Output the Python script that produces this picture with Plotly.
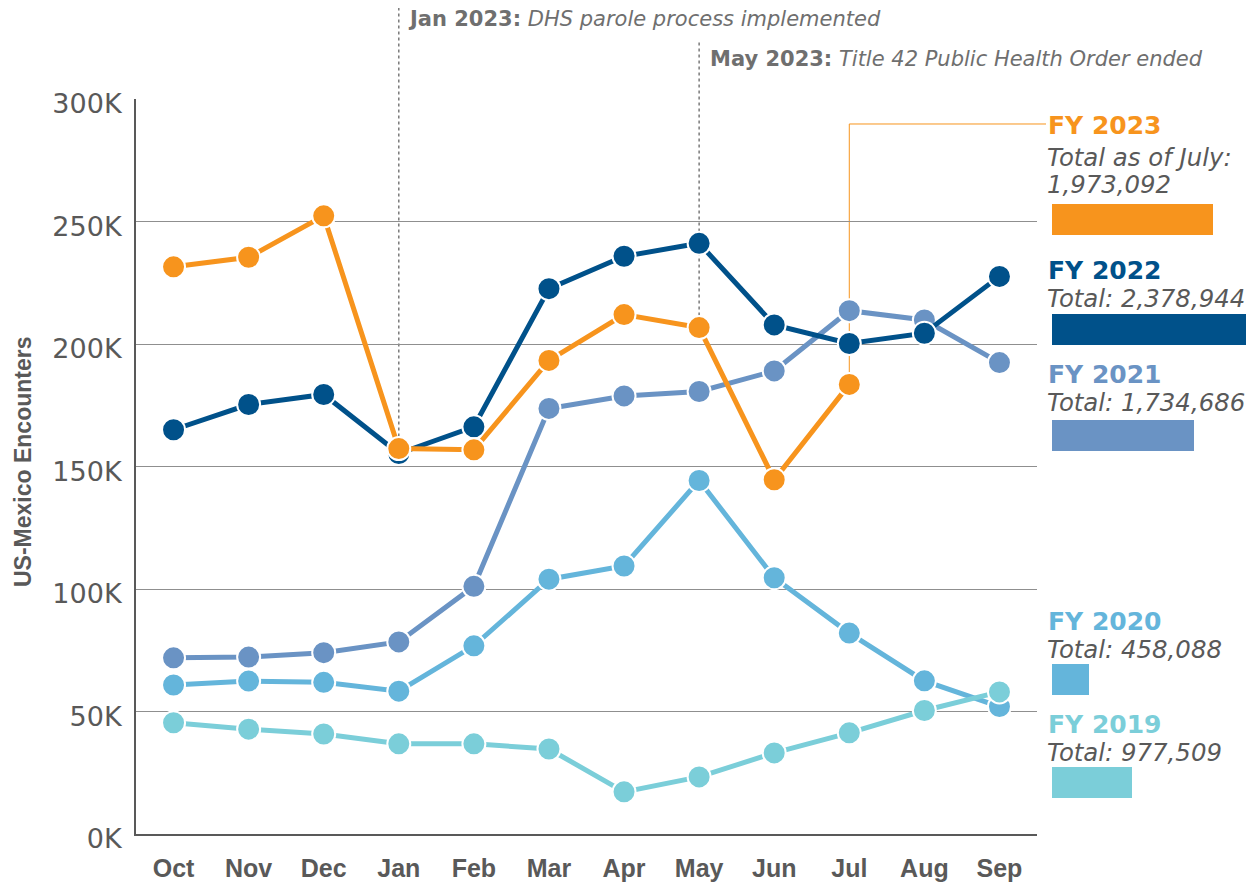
import plotly.graph_objects as go

months = ["Oct", "Nov", "Dec", "Jan", "Feb", "Mar", "Apr", "May", "Jun", "Jul", "Aug", "Sep"]
fy2023 = [231500, 235400, 252300, 157300, 156800, 193300, 212000, 206700, 144600, 183500]
fy2022 = [165000, 175300, 179400, 155300, 166200, 222600, 235800, 241100, 207800, 200200, 204400, 227600]
fy2021 = [71900, 72200, 74000, 78400, 101100, 173700, 178800, 180600, 189000, 213600, 209800, 192400]
fy2020 = [60800, 62400, 61900, 58300, 76800, 104000, 109400, 144300, 104600, 82000, 62500, 52000]
fy2019 = [45400, 42800, 40800, 36800, 36800, 34700, 17200, 23300, 33100, 41300, 50400, 58000]

series_names = ["FY 2023", "FY 2022", "FY 2021", "FY 2020", "FY 2019"]
series_totals = [1973092, 2378944, 1734686, 458088, 977509]
total_labels = [["Total as of July:", "1,973,092"], ["Total: 2,378,944"], ["Total: 1,734,686"],
                ["Total: 458,088"], ["Total: 977,509"]]
y_ticks = [0, 50000, 100000, 150000, 200000, 250000, 300000]
y_tick_labels = ["0K", "50K", "100K", "150K", "200K", "250K", "300K"]

colors = {"FY 2023": "#F7941D", "FY 2022": "#00518A", "FY 2021": "#6A93C4",
          "FY 2020": "#64B5DB", "FY 2019": "#7BCED9"}
values = {"FY 2023": fy2023, "FY 2022": fy2022, "FY 2021": fy2021,
          "FY 2020": fy2020, "FY 2019": fy2019}

W, H = 1260, 884
XD = [136 / W, 1037 / W]
YD = [(H - 834) / H, (H - 99) / H]
YMAX = 300000

def px_x(px):
    return px / W

def px_y(py):
    return (H - py) / H

def data_x_paper(i):
    return XD[0] + (i + 0.5) / 12 * (XD[1] - XD[0])

def data_y_paper(v):
    return YD[0] + v / YMAX * (YD[1] - YD[0])

GRAY = "#595959"
fig = go.Figure()

# draw order: bottom to top
for name in ["FY 2020", "FY 2019", "FY 2021", "FY 2022", "FY 2023"]:
    vals = values[name]
    fig.add_trace(go.Scatter(
        x=months[:len(vals)], y=vals, mode="lines+markers", name=name,
        line=dict(color=colors[name], width=5),
        marker=dict(size=23, color=colors[name], line=dict(color="white", width=2)),
        cliponaxis=False, showlegend=False, hoverinfo="x+y",
    ))

# legend bars (totals) on a secondary axis
bar_centers = [219.5, 329.5, 435.5, 679.5, 782]
fig.add_trace(go.Bar(
    x=series_totals, y=bar_centers, orientation="h", width=31,
    marker=dict(color=[colors[n] for n in series_names], line=dict(width=0)),
    xaxis="x2", yaxis="y2", showlegend=False, hoverinfo="x",
))

fig.update_layout(
    template="none",
    width=W, height=H, autosize=False,
    margin=dict(l=0, r=0, t=0, b=0, pad=0),
    paper_bgcolor="white", plot_bgcolor="rgba(0,0,0,0)",
    xaxis=dict(domain=XD, type="category", range=[-0.5, 11.5], automargin=False,
               tickvals=months, ticktext=["<b>%s</b>" % m for m in months],
               tickfont=dict(family="Liberation Sans, Arial, sans-serif", size=25, color=GRAY),
               showgrid=False, showline=True, linecolor=GRAY, linewidth=2,
               ticks="", ticklabelstandoff=11, zeroline=False),
    yaxis=dict(domain=YD, range=[0, YMAX], tickvals=y_ticks, ticktext=y_tick_labels, automargin=False,
               tickfont=dict(family="DejaVu Sans, sans-serif", size=27, color=GRAY),
               showgrid=True, gridcolor="#8f8f8f", gridwidth=1,
               showline=True, linecolor=GRAY, linewidth=2, ticks="",
               ticklabelstandoff=7, ticklabelshift=5, zeroline=False),
    xaxis2=dict(domain=[1052 / W, 1.0], range=[0, 2549000], visible=False, fixedrange=True,
                automargin=False),
    yaxis2=dict(domain=[0, 1], range=[H, 0], visible=False, fixedrange=True, automargin=False),
    bargap=0,
)

shapes = []
# event marker dotted lines
shapes.append(dict(type="line", xref="paper", yref="paper",
                   x0=data_x_paper(3), x1=data_x_paper(3),
                   y0=data_y_paper(fy2023[3]), y1=px_y(8),
                   line=dict(color="#7a7a7a", width=1.5, dash="dot"), layer="below"))
shapes.append(dict(type="line", xref="paper", yref="paper",
                   x0=data_x_paper(7), x1=data_x_paper(7),
                   y0=data_y_paper(fy2023[7]), y1=px_y(42),
                   line=dict(color="#7a7a7a", width=1.5, dash="dot"), layer="below"))
# orange connector from Jul FY2023 to its label
jx = data_x_paper(9)
shapes.append(dict(type="path", xref="paper", yref="paper",
                   path="M %f %f L %f %f L %f %f" % (jx, data_y_paper(fy2023[9]), jx, px_y(124),
                                                     px_x(1046), px_y(124)),
                   line=dict(color=colors["FY 2023"], width=1), layer="below"))
fig.update_layout(shapes=shapes)

ann = []
ann.append(dict(xref="paper", yref="paper", x=px_x(406), y=px_y(19), xanchor="left", yanchor="middle",
                showarrow=False,
                text="<b>Jan 2023:</b> <i>DHS parole process implemented</i>",
                font=dict(family="DejaVu Sans, sans-serif", size=21, color="#6f6f6f")))
ann.append(dict(xref="paper", yref="paper", x=px_x(708), y=px_y(59), xanchor="left", yanchor="middle",
                showarrow=False,
                text="<b>May 2023:</b> <i>Title 42 Public Health Order ended</i>",
                font=dict(family="DejaVu Sans, sans-serif", size=21, color="#6f6f6f")))
# y axis title
ann.append(dict(xref="paper", yref="paper", x=px_x(23), y=px_y(462), xanchor="center", yanchor="middle",
                showarrow=False, textangle=-90, text="<b>US-Mexico Encounters</b>",
                font=dict(family="Liberation Sans, Arial, sans-serif", size=23, color=GRAY)))

title_y = [125, 270, 374, 621, 724]
total_y = [[157, 184], [298], [402], [649], [752]]
for name, ty, tlys, labs in zip(series_names, title_y, total_y, total_labels):
    ann.append(dict(xref="paper", yref="paper", x=px_x(1046), y=px_y(ty), xanchor="left", yanchor="middle",
                    showarrow=False, text="<b>%s</b>" % name,
                    font=dict(family="DejaVu Sans, sans-serif", size=25, color=colors[name])))
    for tly, lab in zip(tlys, labs):
        ann.append(dict(xref="paper", yref="paper", x=px_x(1045), y=px_y(tly), xanchor="left",
                        yanchor="middle", showarrow=False, text="<i>%s</i>" % lab,
                        font=dict(family="DejaVu Sans, sans-serif", size=24.4, color=GRAY)))
fig.update_layout(annotations=ann)

fig.write_html("out.html", config={"displayModeBar": False},
               post_script="document.body.style.margin='0px';document.body.style.padding='0px';")
